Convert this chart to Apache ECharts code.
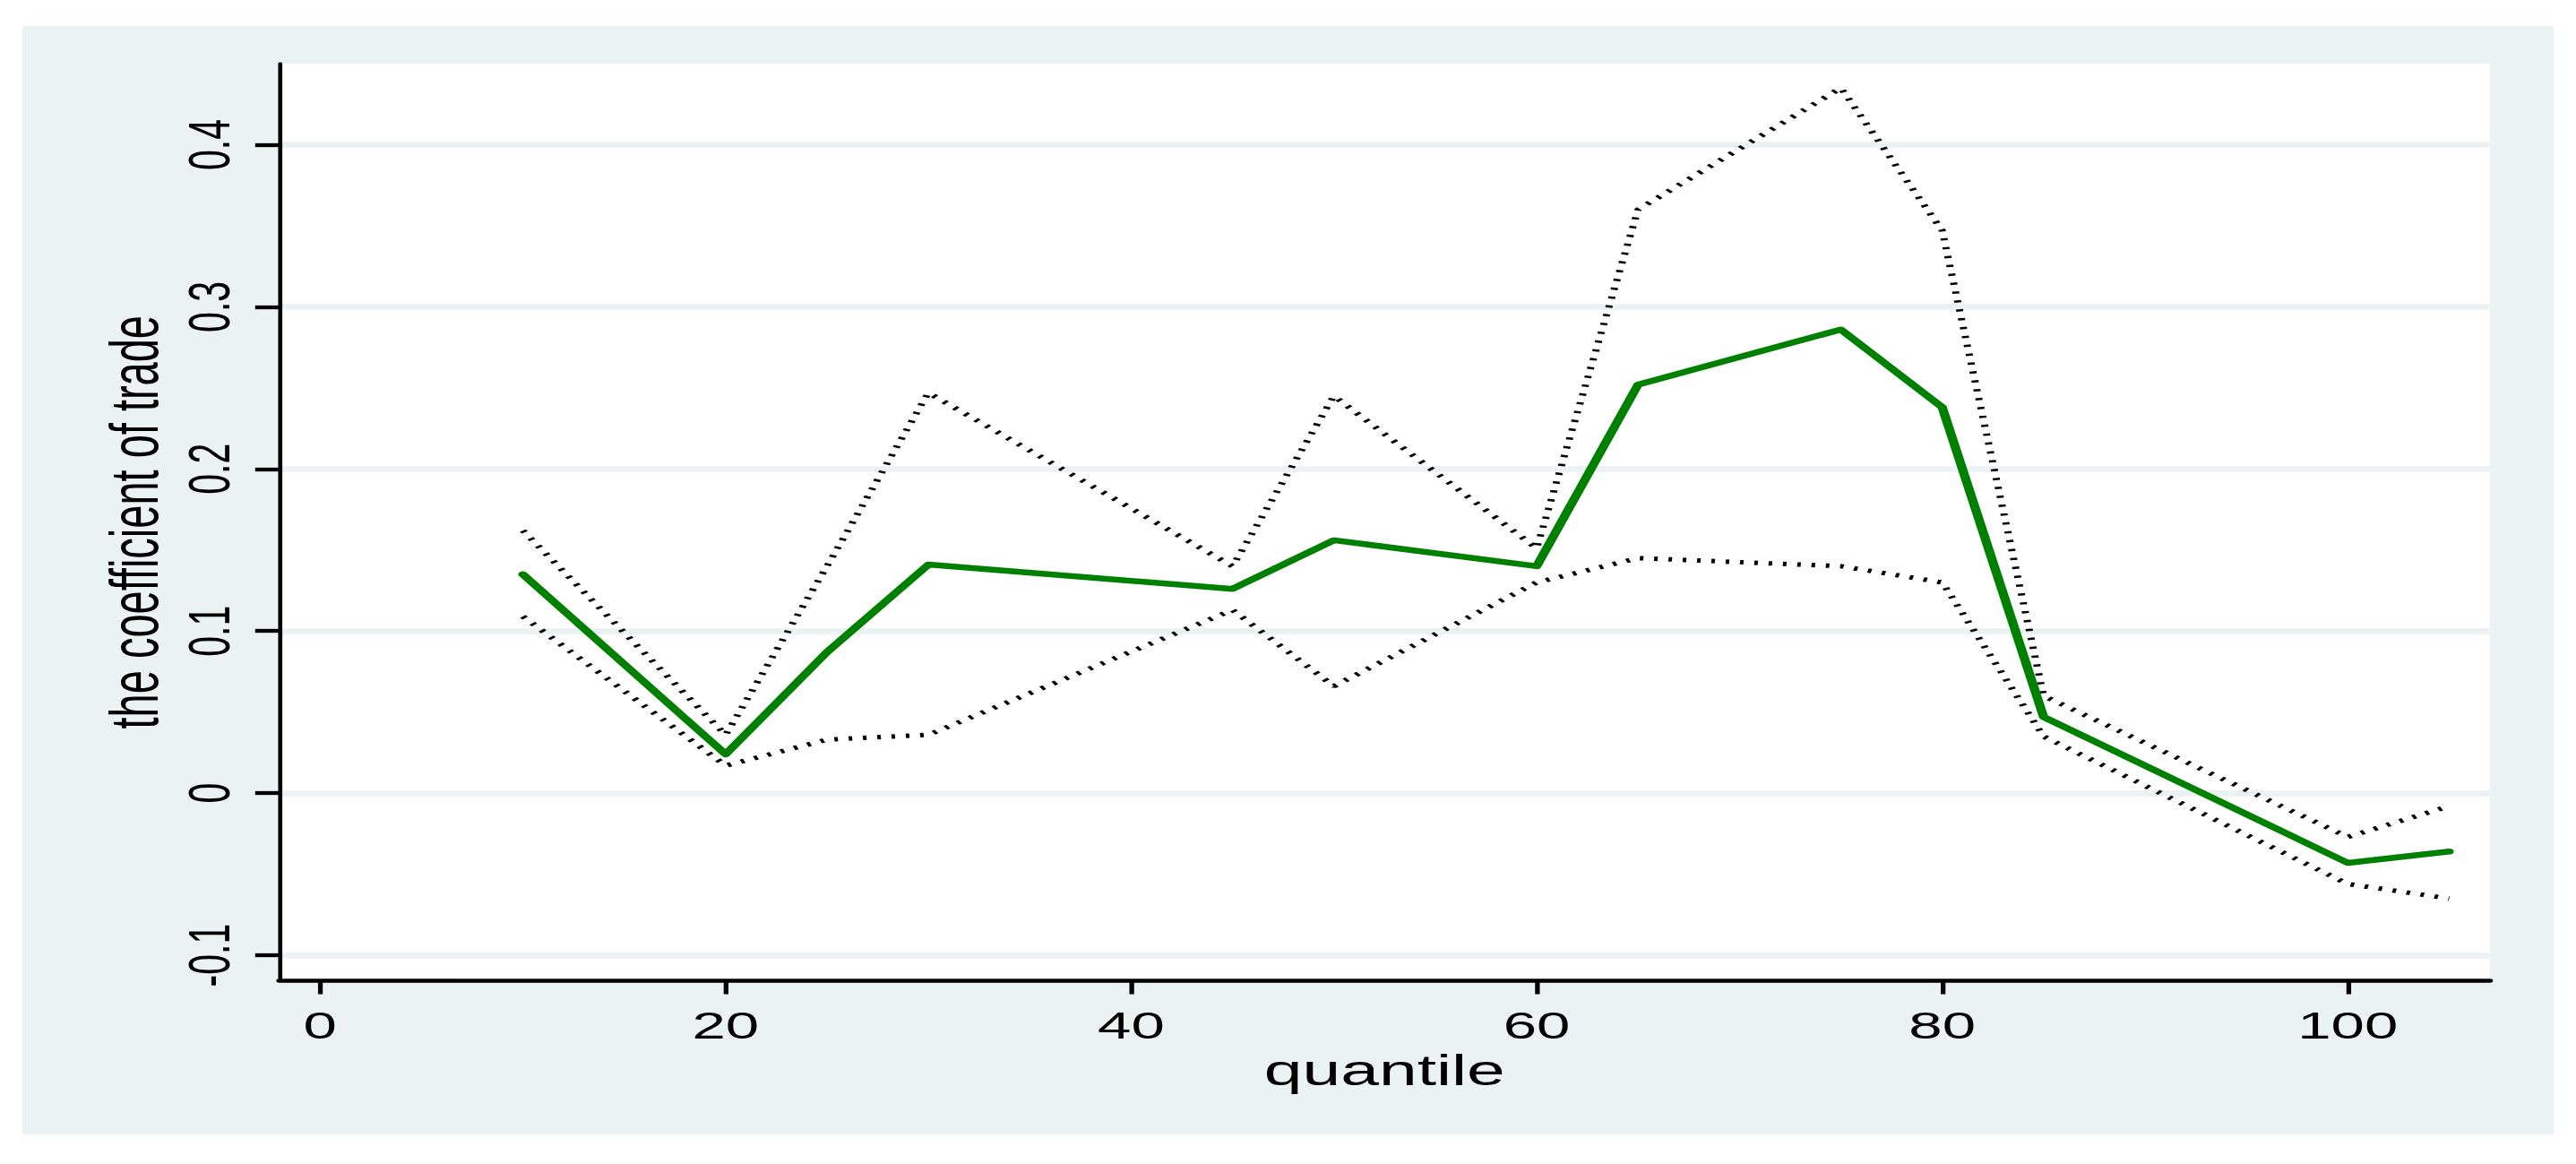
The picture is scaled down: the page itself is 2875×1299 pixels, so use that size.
<!DOCTYPE html>
<html>
<head>
<meta charset="utf-8">
<script src="https://cdn.jsdelivr.net/npm/echarts@6/dist/echarts.min.js"></script>
<style>
  html, body { margin: 0; padding: 0; background: #ffffff; width: 2875px; height: 1299px; overflow: hidden; }
  #panel { position: absolute; left: 25px; top: 29px; width: 2825px; height: 1237px; background: #EAF2F3; }
  #chart { position: absolute; left: 0; top: 0; width: 1797px; height: 1299px; transform: scaleX(1.59989); transform-origin: 0 0; }
</style>
</head>
<body>
<div id="panel"></div>
<div id="chart"></div>
<script>
// ---- data ----
const quantile = [10, 20, 25, 30, 45, 50, 60, 65, 75, 80, 85, 100, 105];
const coefTrade = [0.135, 0.024, 0.087, 0.141, 0.126, 0.156, 0.140, 0.252, 0.286, 0.238, 0.047, -0.043, -0.036];
const upperBound = [0.162, 0.036, 0.140, 0.247, 0.140, 0.245, 0.151, 0.360, 0.435, 0.347, 0.060, -0.027, -0.008];
const lowerBound = [0.109, 0.017, 0.033, 0.036, 0.113, 0.066, 0.130, 0.145, 0.140, 0.130, 0.035, -0.056, -0.065];
const xTicks = [0, 20, 40, 60, 80, 100];
const yTicks = [-0.1, 0, 0.1, 0.2, 0.3, 0.4];

const zip = (xs, ys) => xs.map((x, i) => [x, ys[i]]);

const chart = echarts.init(document.getElementById('chart'), null, { renderer: 'svg' });
const font = 'Liberation Sans, Arial, Helvetica, sans-serif';

chart.setOption({
  animation: false,
  backgroundColor: 'transparent',
  grid: {
    left: 195, right: 60.2, top: 71, bottom: 204.5,
    show: true, backgroundColor: '#ffffff', borderWidth: 0,
    outerBoundsMode: 'none', containLabel: false
  },
  xAxis: {
    type: 'value', min: -2, max: 107,
    name: 'quantile', nameLocation: 'middle', nameGap: 72,
    nameTextStyle: { fontFamily: font, fontSize: 48, color: '#000' },
    axisLine: { show: true, onZero: false, lineStyle: { color: '#000', width: 4.5 } },
    axisTick: { show: true, customValues: xTicks, length: 15, lineStyle: { color: '#000', width: 3.3 } },
    axisLabel: { customValues: xTicks, margin: 29, fontFamily: font, fontSize: 42, color: '#000' },
    splitLine: { show: false }
  },
  yAxis: {
    type: 'value', min: -0.1157, max: 0.45,
    name: 'the coefficient of trade', nameLocation: 'middle', nameGap: 77, nameRotate: 90,
    nameTextStyle: { fontFamily: font, fontSize: 47, color: '#000' },
    axisLine: { show: true, onZero: false, lineStyle: { color: '#000', width: 2.9 } },
    axisTick: { show: true, customValues: yTicks, length: 17, lineStyle: { color: '#000', width: 4.3 } },
    axisLabel: { customValues: yTicks, rotate: 90, margin: 29, fontFamily: font, fontSize: 41, color: '#000' },
    splitLine: { show: true, lineStyle: { color: '#EAF2F3', width: 6.5 } }
  },
  series: [
    {
      name: 'upper', type: 'line', data: zip(quantile, upperBound),
      symbol: 'none', z: 3,
      lineStyle: { color: '#000', width: 5, type: [2.5, 7.5], cap: 'butt' }
    },
    {
      name: 'lower', type: 'line', data: zip(quantile, lowerBound),
      symbol: 'none', z: 3,
      lineStyle: { color: '#000', width: 5, type: [2.5, 7.5], cap: 'butt' }
    },
    {
      name: 'coefficient', type: 'line', data: zip(quantile, coefTrade),
      symbol: 'none', z: 4,
      lineStyle: { color: '#008000', width: 6.5, cap: 'round', join: 'round' }
    }
  ]
});
</script>
</body>
</html>
